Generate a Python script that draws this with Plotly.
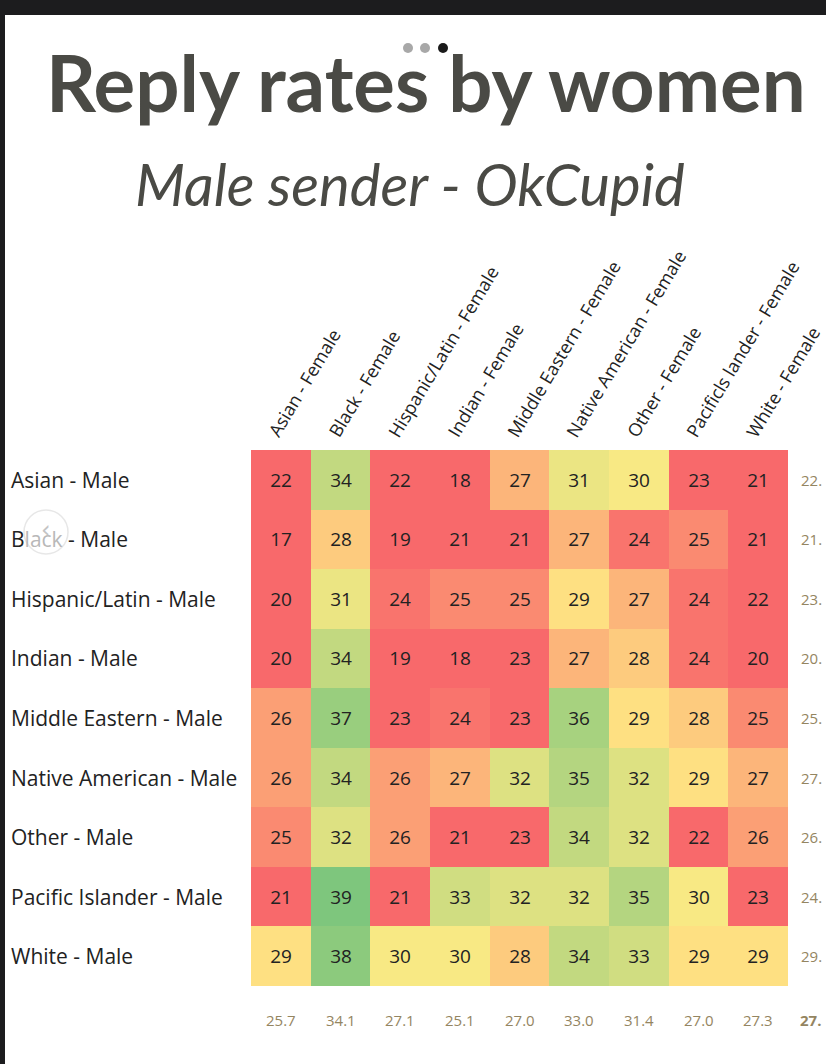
import plotly.graph_objects as go

# ---------------- data ----------------
col_labels = ["Asian - Female", "Black - Female", "Hispanic/Latin - Female", "Indian - Female",
              "Middle Eastern - Female", "Native American - Female", "Other - Female",
              "Pacificls lander - Female", "White - Female"]
row_labels = ["Asian - Male", "Black - Male", "Hispanic/Latin - Male", "Indian - Male",
              "Middle Eastern - Male", "Native American - Male", "Other - Male",
              "Pacific Islander - Male", "White - Male"]
values = [
    [22, 34, 22, 18, 27, 31, 30, 23, 21],
    [17, 28, 19, 21, 21, 27, 24, 25, 21],
    [20, 31, 24, 25, 25, 29, 27, 24, 22],
    [20, 34, 19, 18, 23, 27, 28, 24, 20],
    [26, 37, 23, 24, 23, 36, 29, 28, 25],
    [26, 34, 26, 27, 32, 35, 32, 29, 27],
    [25, 32, 26, 21, 23, 34, 32, 22, 26],
    [21, 39, 21, 33, 32, 32, 35, 30, 23],
    [29, 38, 30, 30, 28, 34, 33, 29, 29],
]
col_avg = [25.7, 34.1, 27.1, 25.1, 27.0, 33.0, 31.4, 27.0, 27.3]
row_avg = [22.3, 21.7, 23.5, 20.8, 25.7, 27.5, 26.5, 24.6, 29.1]
overall_avg = 27.6

# ---------------- layout constants (pixels) ----------------
W, H = 826, 1064
HX0, HX1 = 251, 788
HY0, HY1 = 450, 986
n = len(col_labels)
cw = (HX1 - HX0) / n

def pxx(px):
    return px / W

def pxy(py):
    return 1 - py / H

TEXT = "#222222"
AVG = "#948561"
TITLE = "#4a4a45"

xs = list(range(n))
ys = list(range(len(row_labels)))

fig = go.Figure()
fig.add_trace(go.Heatmap(
    z=values, x=xs, y=ys,
    colorscale=[[0, "#f8696b"], [6 / 17.5, "#ffeb84"], [1, "#63be7b"]],
    zmin=23.5, zmax=41, showscale=False,
    texttemplate="%{z}", textfont=dict(family="Open Sans", size=19, color=TEXT),
    hoverinfo="skip", xgap=0, ygap=0,
))

annotations = [
    dict(text="<b>Reply rates by women</b>", x=pxx(426), y=pxy(82), xref="paper", yref="paper",
         xanchor="center", yanchor="middle", showarrow=False,
         font=dict(family="Lato", size=78, color=TITLE)),
    dict(text="<i>Male sender - OkCupid</i>", x=pxx(410), y=pxy(183), xref="paper", yref="paper",
         xanchor="center", yanchor="middle", showarrow=False,
         font=dict(family="Lato", size=58, color=TITLE)),
]

# rotated column labels
for j, lab in enumerate(col_labels):
    annotations.append(dict(text=lab, x=xs[j] - 0.5 + 9 / cw, y=pxy(444), xref="x", yref="paper",
                            xanchor="left", yanchor="bottom", textangle=-59, showarrow=False,
                            font=dict(family="Open Sans", size=18, color=TEXT)))

# row labels (left aligned); "lack" is dimmed by the overlay button in the reference
for i, lab in enumerate(row_labels):
    txt = lab
    if i == 1:
        txt = lab[0] + "<span style='color:#b8b8b8'>" + lab[1:5] + "</span>" + lab[5:]
    annotations.append(dict(text=txt, x=pxx(9), y=ys[i], xref="paper", yref="y",
                            xanchor="left", yanchor="middle", showarrow=False,
                            font=dict(family="Open Sans", size=21, color=TEXT)))
# column averages
for j, v in enumerate(col_avg):
    annotations.append(dict(text=f"{v:.1f}", x=xs[j], y=pxy(1020), xref="x", yref="paper",
                            xanchor="center", yanchor="middle", showarrow=False,
                            font=dict(family="Open Sans", size=15, color=AVG)))
# row averages: the page edge cuts them after the decimal point
for i, v in enumerate(row_avg):
    annotations.append(dict(text=f"{v:.1f}"[:3], x=pxx(799), y=ys[i], xref="paper", yref="y",
                            xanchor="left", yanchor="middle", showarrow=False,
                            font=dict(family="Open Sans", size=15, color=AVG)))
annotations.append(dict(text=f"<b>{overall_avg:.1f}</b>"[:6], x=pxx(798), y=pxy(1020), xref="paper",
                        yref="paper", xanchor="left", yanchor="middle", showarrow=False,
                        font=dict(family="Open Sans", size=15, color=AVG)))
# overlay back-button chevron
annotations.append(dict(text="‹", x=pxx(46), y=pxy(530), xref="paper", yref="paper",
                        xanchor="center", yanchor="middle", showarrow=False,
                        font=dict(family="DejaVu Sans", size=24, color="#c4c4c4")))

shapes = [
    dict(type="rect", xref="paper", yref="paper", x0=0, x1=1, y0=pxy(15), y1=1,
         fillcolor="#1c1c1e", line=dict(width=0), layer="above"),
    dict(type="rect", xref="paper", yref="paper", x0=0, x1=pxx(5), y0=0, y1=1,
         fillcolor="#1c1c1e", line=dict(width=0), layer="above"),
    dict(type="circle", xref="paper", yref="paper", x0=pxx(403), x1=pxx(413),
         y0=pxy(53), y1=pxy(43), fillcolor="#a8a8a8", line=dict(width=0)),
    dict(type="circle", xref="paper", yref="paper", x0=pxx(420), x1=pxx(430),
         y0=pxy(53), y1=pxy(43), fillcolor="#a8a8a8", line=dict(width=0)),
    dict(type="circle", xref="paper", yref="paper", x0=pxx(438), x1=pxx(448),
         y0=pxy(53), y1=pxy(43), fillcolor="#1a1a1a", line=dict(width=0)),
    dict(type="circle", xref="paper", yref="paper", x0=pxx(24), x1=pxx(68),
         y0=pxy(554), y1=pxy(510), fillcolor="rgba(255,255,255,0.6)",
         line=dict(color="rgba(215,215,215,0.6)", width=1.5)),
]

fig.update_layout(
    width=W, height=H, margin=dict(l=0, r=0, t=0, b=0),
    paper_bgcolor="white", plot_bgcolor="white",
    xaxis=dict(domain=[HX0 / W, HX1 / W], range=[-0.5, n - 0.5],
               showticklabels=False, showgrid=False, zeroline=False, showline=False, ticks=""),
    yaxis=dict(domain=[1 - HY1 / H, 1 - HY0 / H], range=[len(row_labels) - 0.5, -0.5],
               showticklabels=False, showgrid=False, zeroline=False, showline=False, ticks=""),
    showlegend=False,
    annotations=annotations,
    shapes=shapes,
)

fig.write_html("out.html")
